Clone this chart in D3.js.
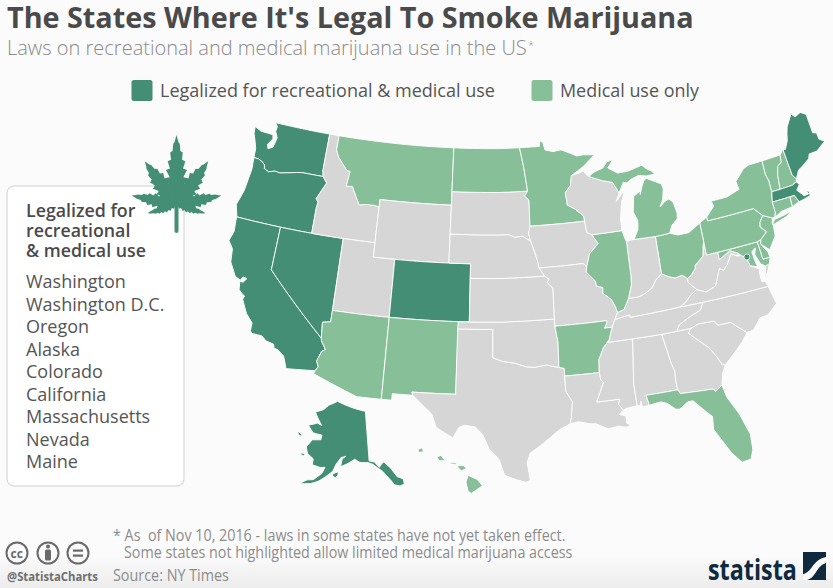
<!DOCTYPE html>
<html>
<head>
<meta charset="utf-8">
<script src="https://cdn.jsdelivr.net/npm/d3@7"></script>
<style>
html,body{margin:0;padding:0;background:#fbfbfb;}
svg{display:block;font-family:"Open Sans",sans-serif;}
</style>
</head>
<body>
<script>
var svg_width = 833;
var svg_height = 588;

var recreational = ["WA","OR","CA","NV","CO","AK","MA","ME"];
var medicalOnly = ["MT","ND","MN","MI","IL","OH","PA","NY","VT","NH","CT","RI","NJ","DE","MD","AR","FL","AZ","NM","HI"];
var legendLabels = ["Legalized for recreational & medical use","Medical use only"];
var boxTitle = ["Legalized for","recreational","& medical use"];
var boxStates = ["Washington","Washington D.C.","Oregon","Alaska","Colorado","California","Massachusetts","Nevada","Maine"];
var dcLocation = [-77.03,38.9];

// rough state outlines, lon/lat
var outlines = {
WA:[[[-117.03,49],[-122.76,49],[-122.5,48.75],[-122.55,48.4],[-122.25,48],[-122.35,47.6],[-122.45,47.3],[-122.9,47.1],[-123.05,47.4],[-122.65,47.85],[-122.75,48.13],[-123.2,48.15],[-124,48.17],[-124.72,48.38],[-124.65,47.9],[-124.3,47.3],[-124.1,46.9],[-124.05,46.27],[-123.55,46.25],[-123.2,46.15],[-122.85,45.95],[-122.78,45.7],[-122.3,45.55],[-121.7,45.7],[-121.2,45.65],[-120.6,45.75],[-119.6,45.92],[-118.98,46],[-116.92,46],[-117.05,46.42]]],
OR:[[[-124.05,46.27],[-123.95,45.5],[-124.05,44.7],[-124.15,43.9],[-124.4,43.2],[-124.55,42.84],[-124.2,42],[-120,42],[-117.03,42],[-117.03,43.8],[-116.95,44.2],[-117.2,44.4],[-116.9,44.9],[-116.46,45.6],[-116.92,46],[-118.98,46],[-119.6,45.92],[-120.6,45.75],[-121.2,45.65],[-121.7,45.7],[-122.3,45.55],[-122.78,45.7],[-122.85,45.95],[-123.2,46.15],[-123.55,46.25]]],
CA:[[[-124.2,42],[-120,42],[-120,39],[-114.63,35],[-114.57,34.8],[-114.13,34.27],[-114.43,34.1],[-114.72,33.4],[-114.52,33.03],[-114.72,32.72],[-117.12,32.53],[-117.25,32.85],[-117.5,33.35],[-118.1,33.72],[-118.4,33.75],[-118.5,34.02],[-119.2,34.15],[-119.6,34.42],[-120.47,34.45],[-120.65,34.6],[-120.65,35.15],[-121.3,35.7],[-121.9,36.6],[-121.8,36.85],[-122.05,36.95],[-122.4,37.2],[-122.5,37.75],[-122.2,37.75],[-121.95,38.05],[-122.3,38.1],[-122.5,37.85],[-123,38],[-123.7,38.9],[-123.85,39.8],[-124.35,40.3],[-124.1,41],[-124.2,41.75]]],
NV:[[[-120,42],[-117.03,42],[-114.04,42],[-114.04,37],[-114.05,36.2],[-114.74,36.1],[-114.63,35],[-120,39]]],
ID:[[[-117.03,49],[-116.05,49],[-116.05,48],[-115.7,47.5],[-114.7,46.7],[-114.35,46.65],[-114.5,45.6],[-113.9,45.65],[-113.45,45.05],[-113,44.45],[-112.3,44.55],[-111.5,44.55],[-111.05,44.48],[-111.05,42],[-114.04,42],[-117.03,42],[-117.03,43.8],[-116.95,44.2],[-117.2,44.4],[-116.9,44.9],[-116.46,45.6],[-116.92,46],[-117.05,46.42]]],
MT:[[[-116.05,49],[-104.05,49],[-104.05,45],[-111.05,45],[-111.05,44.48],[-111.5,44.55],[-112.3,44.55],[-113,44.45],[-113.45,45.05],[-113.9,45.65],[-114.5,45.6],[-114.35,46.65],[-114.7,46.7],[-115.7,47.5],[-116.05,48]]],
WY:[[[-111.05,45],[-104.05,45],[-104.05,41],[-111.05,41]]],
UT:[[[-114.04,42],[-111.05,42],[-111.05,41],[-109.05,41],[-109.05,37],[-114.04,37]]],
CO:[[[-109.05,41],[-102.05,41],[-102.05,37],[-109.05,37]]],
AZ:[[[-114.74,36.1],[-114.05,36.2],[-114.04,37],[-109.05,37],[-109.05,31.33],[-111.07,31.33],[-114.8,32.5],[-114.72,32.72],[-114.52,33.03],[-114.72,33.4],[-114.43,34.1],[-114.13,34.27],[-114.57,34.8],[-114.63,35]]],
NM:[[[-109.05,37],[-103,37],[-103.04,32],[-106.62,32],[-106.53,31.78],[-108.21,31.78],[-108.21,31.33],[-109.05,31.33]]],
TX:[[[-103.04,36.5],[-100,36.5],[-100,34.56],[-99.2,34.3],[-98.1,34.13],[-97.2,33.85],[-96.5,33.78],[-95.5,33.88],[-94.48,33.64],[-94.04,33.55],[-94.04,33.02],[-94.04,31.99],[-93.55,31.2],[-93.72,30.1],[-93.84,29.69],[-94.7,29.35],[-95.1,29.1],[-96,28.5],[-97.1,27.85],[-97.35,27.2],[-97.15,25.97],[-97.5,25.85],[-98.2,26.05],[-99.1,26.4],[-99.5,27.5],[-100.3,28.28],[-100.8,29.25],[-101.4,29.77],[-102.3,29.88],[-102.7,29.7],[-103.15,28.98],[-104.5,29.65],[-104.9,30.55],[-106.53,31.78],[-106.62,32],[-103.04,32]]],
OK:[[[-103,37],[-94.62,37],[-94.62,36.5],[-94.43,35.4],[-94.48,33.64],[-95.5,33.88],[-96.5,33.78],[-97.2,33.85],[-98.1,34.13],[-99.2,34.3],[-100,34.56],[-100,36.5],[-103.04,36.5]]],
KS:[[[-102.05,40],[-95.3,40],[-94.9,39.75],[-95.1,39.55],[-94.6,39.11],[-94.62,37],[-102.05,37]]],
NE:[[[-104.05,43],[-98.5,43],[-97.9,42.8],[-97.2,42.85],[-96.45,42.49],[-96.1,41.7],[-95.85,41],[-95.3,40],[-102.05,40],[-102.05,41],[-104.05,41]]],
SD:[[[-104.05,45.94],[-96.56,45.94],[-96.85,45.6],[-96.45,45.3],[-96.45,43.5],[-96.6,43],[-96.45,42.49],[-97.2,42.85],[-97.9,42.8],[-98.5,43],[-104.05,43]]],
ND:[[[-104.05,49],[-97.23,49],[-96.85,47.6],[-96.56,45.94],[-104.05,45.94]]],
MN:[[[-97.23,49],[-95.15,49],[-95.15,49.38],[-94.8,49.3],[-94.6,48.72],[-93.8,48.55],[-92.95,48.62],[-92,48.3],[-91.4,48.07],[-90.75,48.1],[-89.6,48],[-90.8,47.3],[-92.1,46.75],[-92.29,46.07],[-92.85,45.6],[-92.75,45],[-92.75,44.75],[-92,44.4],[-91.25,43.85],[-91.22,43.5],[-96.45,43.5],[-96.45,45.3],[-96.85,45.6],[-96.56,45.94],[-96.85,47.6]]],
IA:[[[-96.45,43.5],[-91.22,43.5],[-91.1,42.7],[-90.65,42.5],[-90.15,41.85],[-91.05,41.2],[-91.4,40.38],[-91.72,40.6],[-95.77,40.58],[-95.85,41],[-96.1,41.7],[-96.45,42.49],[-96.6,43]]],
MO:[[[-95.77,40.58],[-91.72,40.6],[-91.4,40.38],[-91.5,40],[-90.75,39.3],[-90.7,38.95],[-90.15,38.8],[-90.2,38.4],[-89.5,37.9],[-89.2,37.3],[-89.1,36.95],[-89.4,36.5],[-89.7,36],[-90.37,36],[-90.1,36.4],[-90.15,36.5],[-94.62,36.5],[-94.62,37],[-94.6,39.11],[-95.1,39.55],[-94.9,39.75],[-95.3,40]]],
AR:[[[-94.62,36.5],[-90.15,36.5],[-90.1,36.4],[-90.37,36],[-89.7,36],[-90.1,35.1],[-90.6,34.7],[-91.1,33.9],[-91.17,33],[-94.04,33.02],[-94.04,33.55],[-94.48,33.64],[-94.43,35.4]]],
LA:[[[-94.04,33.02],[-91.17,33],[-91.1,32.5],[-90.9,32.3],[-91.6,31],[-89.75,31],[-89.85,30.65],[-89.55,30.2],[-89.9,29.95],[-89.4,29.8],[-89.4,29.3],[-89.1,29.1],[-89.4,29],[-90.1,29.15],[-90.9,29.05],[-91.8,29.5],[-92.3,29.55],[-93.2,29.78],[-93.84,29.69],[-93.72,30.1],[-93.55,31.2],[-94.04,31.99]]],
MS:[[[-90.3,35],[-88.2,35],[-88.1,34.9],[-88.47,31.9],[-88.4,30.37],[-89.3,30.3],[-89.55,30.2],[-89.85,30.65],[-89.75,31],[-91.6,31],[-90.9,32.3],[-91.1,32.5],[-91.17,33],[-91.1,33.9],[-90.6,34.7],[-90.1,35.1]]],
AL:[[[-88.2,35],[-85.6,34.98],[-85.18,32.87],[-85,32.3],[-85.05,31.55],[-85,31],[-87.6,31],[-87.45,30.4],[-87.5,30.28],[-88,30.23],[-88.05,30.65],[-88.15,30.35],[-88.4,30.37],[-88.47,31.9],[-88.1,34.9]]],
GA:[[[-85.6,34.98],[-83.1,35],[-83.35,34.7],[-82.55,34],[-81.9,33.45],[-81.4,32.7],[-81.1,32.1],[-80.85,32.03],[-81.2,31.5],[-81.45,30.71],[-82.05,30.36],[-82.2,30.57],[-84.86,30.71],[-85,31],[-85.05,31.55],[-85,32.3],[-85.18,32.87]]],
FL:[[[-87.6,31],[-85,31],[-84.86,30.71],[-82.2,30.57],[-82.05,30.36],[-81.45,30.71],[-81.25,29.8],[-80.55,28.45],[-80.05,26.9],[-80.12,25.8],[-80.4,25.2],[-81.1,25.12],[-81.75,25.95],[-82.15,26.7],[-82.75,27.8],[-82.65,28.7],[-83.1,29.15],[-83.95,30.05],[-84.35,30.05],[-85.1,29.65],[-85.4,29.7],[-86,30.2],[-86.5,30.38],[-87.5,30.28],[-87.45,30.4]]],
SC:[[[-83.1,35],[-82.4,35.2],[-81.05,35.15],[-80.8,34.82],[-79.68,34.8],[-78.55,33.85],[-79.1,33.3],[-79.9,32.7],[-80.85,32.03],[-81.1,32.1],[-81.4,32.7],[-81.9,33.45],[-82.55,34],[-83.35,34.7]]],
NC:[[[-84.32,34.99],[-83.1,35],[-82.4,35.2],[-81.05,35.15],[-80.8,34.82],[-79.68,34.8],[-78.55,33.85],[-77.95,33.9],[-77.2,34.6],[-76.5,34.65],[-75.55,35.25],[-75.87,36.55],[-81.68,36.59],[-82,36.1],[-83,35.8],[-84,35.4]]],
TN:[[[-90.3,35],[-88.2,35],[-85.6,34.98],[-84.32,34.99],[-84,35.4],[-83,35.8],[-82,36.1],[-81.68,36.59],[-83.68,36.6],[-88.07,36.5],[-88.07,36.68],[-89.4,36.5],[-89.7,36],[-90.1,35.1]]],
KY:[[[-89.4,36.5],[-88.07,36.68],[-88.07,36.5],[-83.68,36.6],[-83.1,36.85],[-82.6,37.25],[-81.97,37.54],[-82.6,38.15],[-82.6,38.42],[-83,38.72],[-83.65,38.63],[-84.2,38.8],[-84.8,39.1],[-85.4,38.73],[-85.8,38.27],[-86.5,37.95],[-87.1,37.8],[-88,37.8],[-88.5,37.1],[-89.1,36.95]]],
VA:[[[-83.68,36.6],[-81.68,36.59],[-75.87,36.55],[-76,36.92],[-76.3,37],[-76.3,37.6],[-76.25,37.9],[-76.95,38.25],[-77.04,38.7],[-77.1,38.85],[-77.5,39.1],[-77.83,39.13],[-78.35,39.4],[-78.87,38.76],[-79.3,38.42],[-79.65,38.6],[-80.3,37.5],[-81.22,37.24],[-81.97,37.54],[-82.6,37.25],[-83.1,36.85]],[[-75.95,37.15],[-75.65,37.95],[-75.25,38.03],[-75.6,37.5]]],
WV:[[[-81.97,37.54],[-81.22,37.24],[-80.3,37.5],[-79.65,38.6],[-79.3,38.42],[-78.87,38.76],[-78.35,39.4],[-77.83,39.13],[-77.72,39.32],[-78.4,39.62],[-79.48,39.2],[-79.48,39.72],[-80.52,39.72],[-80.52,40.64],[-80.65,40.4],[-80.85,39.7],[-81.7,39.2],[-81.75,39],[-82.2,38.6],[-82.6,38.42],[-82.6,38.15]]],
MD:[[[-79.48,39.72],[-75.79,39.72],[-75.7,38.46],[-75.05,38.45],[-75.25,38.03],[-75.65,37.95],[-76,38.2],[-76.3,38.9],[-76.1,39.35],[-76.5,39.15],[-76.4,38.35],[-76.3,38.05],[-76.95,38.25],[-77.04,38.7],[-77.1,38.85],[-77.5,39.1],[-77.72,39.32],[-78.4,39.62],[-79.48,39.2]]],
DE:[[[-75.79,39.72],[-75.42,39.8],[-75.55,39.5],[-75.1,38.8],[-75.05,38.45],[-75.7,38.46]]],
PA:[[[-80.52,41.98],[-79.76,42.27],[-79.76,42],[-75.35,42],[-74.7,41.36],[-75.1,40.95],[-75.2,40.65],[-74.75,40.2],[-75.42,39.8],[-75.79,39.72],[-80.52,39.72]]],
NJ:[[[-74.7,41.36],[-73.9,41],[-74.05,40.65],[-74,40.45],[-74.1,39.75],[-74.9,38.95],[-75.55,39.5],[-75.42,39.8],[-74.75,40.2],[-75.2,40.65],[-75.1,40.95]]],
NY:[[[-79.76,42.27],[-78.9,42.9],[-79.05,43.27],[-77.5,43.27],[-76.5,43.5],[-76.2,43.55],[-76.3,44.15],[-75.3,44.85],[-74.7,45],[-73.35,45],[-73.4,44],[-73.25,43.55],[-73.28,42.75],[-73.5,42.05],[-73.5,41.3],[-73.65,41],[-73.9,41],[-74.7,41.36],[-75.35,42],[-79.76,42]],[[-74.03,40.6],[-73.75,40.85],[-72.6,40.97],[-72,41.1],[-72.6,40.8],[-73.9,40.55]]],
VT:[[[-73.35,45],[-71.5,45.01],[-71.6,44.5],[-72.05,44.3],[-72.3,43.7],[-72.46,42.73],[-73.28,42.75],[-73.25,43.55],[-73.4,44]]],
NH:[[[-71.5,45.01],[-71.08,45.3],[-70.98,43.4],[-70.7,43.07],[-70.82,42.87],[-71.25,42.74],[-72.46,42.73],[-72.3,43.7],[-72.05,44.3],[-71.6,44.5]]],
ME:[[[-71.08,45.3],[-70.85,45.25],[-70.4,45.8],[-70.25,46.2],[-70,46.7],[-69.23,47.46],[-68.9,47.18],[-68.3,47.35],[-67.8,47.07],[-67.8,45.7],[-67.45,45.6],[-67.45,45.15],[-67,44.85],[-68,44.4],[-68.8,44.4],[-69,44.1],[-69.8,43.75],[-70.25,43.6],[-70.7,43.07],[-70.98,43.4]]],
MA:[[[-73.5,42.05],[-73.28,42.75],[-72.46,42.73],[-71.25,42.74],[-70.82,42.87],[-70.6,42.65],[-71,42.3],[-70.65,41.95],[-70.5,41.78],[-70.05,41.8],[-70.2,42.07],[-69.95,41.95],[-69.97,41.65],[-70.65,41.55],[-71.12,41.5],[-71.38,42.02],[-71.8,42.02]]],
RI:[[[-71.8,42.02],[-71.38,42.02],[-71.12,41.5],[-71.85,41.32]]],
CT:[[[-73.5,42.05],[-71.8,42.02],[-71.85,41.32],[-72.9,41.25],[-73.65,41],[-73.5,41.3]]],
OH:[[[-84.8,41.7],[-83.45,41.73],[-82.7,41.5],[-81.7,41.5],[-80.52,41.98],[-80.52,40.64],[-80.65,40.4],[-80.85,39.7],[-81.7,39.2],[-81.75,39],[-82.2,38.6],[-82.6,38.42],[-83,38.72],[-83.65,38.63],[-84.2,38.8],[-84.8,39.1]]],
IN:[[[-87.52,41.7],[-87.2,41.75],[-86.8,41.76],[-84.8,41.7],[-84.8,39.1],[-85.4,38.73],[-85.8,38.27],[-86.5,37.95],[-87.1,37.8],[-88,37.8],[-87.6,38.7],[-87.53,39.35]]],
IL:[[[-90.65,42.5],[-87.8,42.5],[-87.6,41.85],[-87.52,41.7],[-87.53,39.35],[-87.6,38.7],[-88,37.8],[-88.5,37.1],[-89.1,36.95],[-89.2,37.3],[-89.5,37.9],[-90.2,38.4],[-90.15,38.8],[-90.7,38.95],[-90.75,39.3],[-91.5,40],[-91.4,40.38],[-91.05,41.2],[-90.15,41.85]]],
WI:[[[-92.29,46.07],[-92.1,46.75],[-90.9,46.95],[-90.4,46.55],[-89.1,46.13],[-88.1,45.9],[-87.6,45.1],[-88,44.55],[-87.05,45.25],[-87.5,44.4],[-87.8,43.3],[-87.8,42.5],[-90.65,42.5],[-91.1,42.7],[-91.22,43.5],[-91.25,43.85],[-92,44.4],[-92.75,44.75],[-92.75,45],[-92.85,45.6]]],
MI:[[[-90.4,46.55],[-89.8,46.8],[-88.9,47],[-88.4,47.4],[-87.8,47.47],[-88.4,46.95],[-87.5,46.5],[-86.5,46.5],[-85,46.75],[-84.6,46.45],[-84.1,46.2],[-83.9,45.97],[-84.7,45.95],[-85.5,46.08],[-86.3,45.9],[-86.7,45.7],[-87.05,45.8],[-87.6,45.1],[-88.1,45.9],[-89.1,46.13]],[[-86.8,41.76],[-86.3,42.4],[-86.2,43],[-86.5,43.65],[-86.25,44.7],[-85.55,45],[-85.6,44.75],[-85.3,45.3],[-85,45.7],[-84.75,45.78],[-84.1,45.5],[-83.4,45.2],[-83.3,44.85],[-83.55,44.1],[-83.9,43.65],[-83.4,43.95],[-82.95,44.07],[-82.6,43.8],[-82.42,43],[-82.5,42.6],[-83.1,42.25],[-83.45,41.73],[-84.8,41.7]]]
};
var alaskaOutline = [
[[-141,69.65],[-141,60.3],[-139,60],[-137.5,58.9],[-136.5,59.45],[-135.5,59.8],[-134,58.8],[-133.4,58.4],[-131.8,56.6],[-130,56],[-130,55],[-131.5,54.8],[-133.2,55.2],[-134.5,56.5],[-136.5,58.1],[-139.7,59.6],[-141.5,60],[-144.5,60.1],[-146.5,60.7],[-148.3,60.1],[-149.7,59.7],[-151.7,59.2],[-151.3,60.7],[-150,61.2],[-151.8,60.9],[-153.5,59.5],[-154.3,58.2],[-156.5,57],[-158.5,56],[-161,55.2],[-164.8,54.6],[-162.5,55.7],[-160.5,56],[-158,57.5],[-157.3,58.7],[-159,58.5],[-162,58.7],[-162.2,59.8],[-164.8,60.5],[-166,61.6],[-165,62.7],[-164.5,63.2],[-161,63.6],[-161,64.5],[-165,64.5],[-168,65.6],[-164.2,66.5],[-162,66.2],[-163.8,67],[-166.8,68.35],[-163,69.3],[-161,70.3],[-156.6,71.35],[-152,70.85],[-148,70.4]],
[[-154.5,57.5],[-153.2,57],[-152.3,57.6],[-152.4,58.2],[-153.4,57.95]],
[[-167.3,60.3],[-165.7,60.2],[-165.7,59.85],[-167,59.9]],
[[-171.7,63.8],[-170,63.7],[-168.8,63.3],[-170.3,63.2]]
];
var hawaiiOutline = [
[[-155.9,20.25],[-155.2,19.95],[-154.8,19.5],[-155.65,18.95],[-155.9,19.1],[-156.05,19.75]],
[[-156.7,20.95],[-156.25,20.95],[-156,20.75],[-156.4,20.58],[-156.65,20.8]],
[[-157.25,21.2],[-156.75,21.17],[-156.85,21.05],[-157.25,21.08]],
[[-158.27,21.55],[-157.95,21.7],[-157.65,21.3],[-158.1,21.3]],
[[-159.75,22.1],[-159.4,22.23],[-159.3,21.95],[-159.6,21.88]]
];
outlines.AK = alaskaOutline;
outlines.HI = hawaiiOutline;

var darkGreen = "#438e74";
var lightGreen = "#86bf98";
var grey = "#d6d6d6";

var svg = d3.select("body")
	.append("svg")
	.attr("width",svg_width)
	.attr("height",svg_height);

var defs = svg.append("defs");
var bottomFade = defs.append("linearGradient").attr("id","bottomFade").attr("x1",0).attr("y1",0).attr("x2",0).attr("y2",1);
bottomFade.append("stop").attr("offset","0%").attr("stop-color","#fbfbfb");
bottomFade.append("stop").attr("offset","100%").attr("stop-color","#ececec");
svg.append("rect").attr("width",svg_width).attr("height",svg_height).attr("fill","#fbfbfb");
svg.append("rect").attr("y",555).attr("width",svg_width).attr("height",33).attr("fill","url(#bottomFade)");

// len squeezes the text to a given width, the original uses a condensed face
function addText(str,x,y,size,weight,color,len){
	var t = svg.append("text")
		.attr("font-size",size)
		.attr("font-weight",weight)
		.attr("fill",color)
		.style("white-space","pre")
		.text(str);
	var sx = len ? len/t.node().getComputedTextLength() : 1;
	t.attr("transform","translate("+x+","+y+") scale("+sx+",1)");
	return t;
}

addText("The States Where It's Legal To Smoke Marijuana",7,28,29,700,"#4a4a4a",687);
addText("Laws on recreational and medical marijuana use in the US",7,55,19.5,300,"#8a8a8a",520);
addText("*",528,49,11,300,"#8a8a8a");

svg.append("rect").attr("x",131.5).attr("y",80).attr("width",21).attr("height",21).attr("rx",2.5).attr("fill",darkGreen);
addText(legendLabels[0],160,97,18,400,"#555",335);
svg.append("rect").attr("x",531.5).attr("y",80).attr("width",21).attr("height",21).attr("rx",2.5).attr("fill",lightGreen);
addText(legendLabels[1],560,97,18,400,"#555",139);

// projections: lower 48 plus two insets. The original map is a bit stretched
// and bent compared to a plain albers, so nudge it after projecting
var albers = d3.geoAlbers().rotate([100,0]).scale(805).translate([495,293]);
function lower48(p){
	var q = albers(p);
	var x = q[0]*1.0315-24.5;
	var y = 122+(q[1]-122)*1.026-0.028*Math.max(0,x-500);
	return [x,y];
}
var alaskaProj = d3.geoConicEqualArea().rotate([146,0]).center([0,60]).parallels([55,65]).scale(305).translate([356,463]);
var hawaiiProj = d3.geoConicEqualArea().rotate([157,0]).center([-3,19.9]).parallels([8,18]).scale(800).translate([414,480]);

function projFor(id){
	if(id=="AK") return alaskaProj;
	if(id=="HI") return hawaiiProj;
	return lower48;
}

// add points along long segments so borders follow the projection
function densify(ring){
	var out = [];
	var closed = ring.concat([ring[0]]);
	for(var i=0;i<closed.length-1;i++){
		var a = closed[i], b = closed[i+1];
		var steps = Math.ceil(Math.abs(b[0]-a[0]));
		if(steps<1) steps = 1;
		for(var s=0;s<steps;s++){
			out.push([a[0]+(b[0]-a[0])*s/steps,a[1]+(b[1]-a[1])*s/steps]);
		}
	}
	return out;
}

var shapes = [];
Object.keys(outlines).forEach(function(id){
	outlines[id].forEach(function(ring){
		shapes.push({id:id,ring:densify(ring)});
	});
});

var line = d3.line().curve(d3.curveLinearClosed);

svg.append("g").selectAll("path")
	.data(shapes)
	.enter()
	.append("path")
	.attr("d",function(d){
		return line(d.ring.map(projFor(d.id)));
	})
	.attr("fill",function(d){
		if(recreational.indexOf(d.id)>=0) return darkGreen;
		if(medicalOnly.indexOf(d.id)>=0) return lightGreen;
		return grey;
	})
	.attr("stroke","#fff")
	.attr("stroke-width",0.9)
	.attr("stroke-linejoin","round");

svg.append("circle")
	.attr("cx",lower48(dcLocation)[0])
	.attr("cy",lower48(dcLocation)[1])
	.attr("r",3)
	.attr("fill",darkGreen)
	.attr("stroke","#fff")
	.attr("stroke-width",0.8);

// side box
svg.append("rect").attr("x",7).attr("y",186).attr("width",177).attr("height",300).attr("rx",7)
	.attr("fill","#fff").attr("stroke","#cfcfcf").attr("stroke-width",1);
boxTitle.forEach(function(s,i){
	addText(s,26,217+i*20,17.8,600,"#4a4a4a");
});
boxStates.forEach(function(s,i){
	addText(s,26,288+i*22.5,18,400,"#555");
});

// leaf icon: seven serrated leaflets
var leaflets = [[0,70,11],[-36,54,10],[36,54,10],[-78,46,7.5],[78,46,7.5],[-106,30,4.5],[106,30,4.5]];
var leaf = svg.append("g").attr("transform","translate(176.5,205)").attr("fill",darkGreen);
leaflets.forEach(function(l){
	var pts = [[0,0]];
	var n = 7;
	var i;
	for(i=1;i<=n;i++){
		var t = i/(n+1);
		var w = l[2]*Math.sin(Math.PI*Math.pow(t,0.75));
		pts.push([-w,-l[1]*t]);
		pts.push([-w*0.62,-l[1]*t-1.5]);
	}
	pts.push([0,-l[1]]);
	for(i=n;i>=1;i--){
		var t2 = i/(n+1);
		var w2 = l[2]*Math.sin(Math.PI*Math.pow(t2,0.75));
		pts.push([w2*0.62,-l[1]*t2-1.5]);
		pts.push([w2,-l[1]*t2]);
	}
	leaf.append("path")
		.attr("d",d3.line()(pts)+"Z")
		.attr("transform","rotate("+l[0]+")");
});
leaf.append("rect").attr("x",-2).attr("y",-3).attr("width",4).attr("height",31).attr("rx",2);

// footer
addText("* As  of Nov 10, 2016 - laws in some states have not yet taken effect.",113,541,15.5,400,"#8c8c8c",453);
addText("Some states not highlighted allow limited medical marijuana access",124,558,15.5,400,"#8c8c8c",449);
addText("Source: NY Times",113,581,15.5,400,"#8c8c8c",116);
addText("@StatistaCharts",7,581,12.5,700,"#6f6f6f",91);

var ccX = [17,48,78];
ccX.forEach(function(x){
	svg.append("circle").attr("cx",x).attr("cy",553).attr("r",10.5).attr("fill","none").attr("stroke","#6a6a6a").attr("stroke-width",2);
});
addText("cc",10.5,557.5,12,700,"#6a6a6a");
svg.append("circle").attr("cx",48).attr("cy",546.5).attr("r",2).attr("fill","#6a6a6a");
svg.append("rect").attr("x",45).attr("y",549.5).attr("width",6).attr("height",11).attr("rx",1.5).attr("fill","#6a6a6a");
svg.append("rect").attr("x",73).attr("y",549.5).attr("width",10).attr("height",2.2).attr("fill","#6a6a6a");
svg.append("rect").attr("x",73).attr("y",554.5).attr("width",10).attr("height",2.2).attr("fill","#6a6a6a");

addText("statista",708,580,29,700,"#0f2a3f",89);
svg.append("rect").attr("x",803).attr("y",552).attr("width",23).attr("height",28).attr("fill","#0f2a3f");
svg.append("path")
	.attr("d","M803 574C812 573 812 560 826 557V563C816 566 816 578 807 580H803Z")
	.attr("fill","#fbfbfb");
</script>
</body>
</html>
